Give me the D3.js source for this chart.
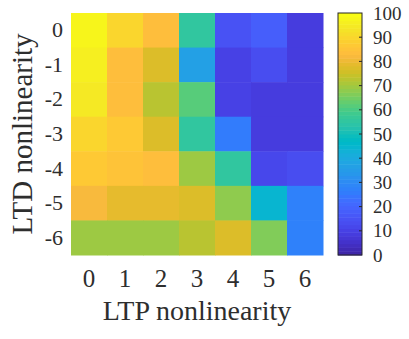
<!DOCTYPE html>
<html>
<head>
<meta charset="utf-8">
<script src="https://cdn.jsdelivr.net/npm/d3@7"></script>
<style>
  html, body { margin: 0; padding: 0; background: #fff; }
  svg { display: block; }
  svg text { font-family: "Liberation Serif", "Times New Roman", serif !important; fill: #2e2e2e; }
</style>
</head>
<body>
<svg id="chart" width="409" height="339"></svg>
<script>
// ---- data ----
const ltpLevels = [0, 1, 2, 3, 4, 5, 6];          // x categories
const ltdLevels = [0, -1, -2, -3, -4, -5, -6];    // y categories (top to bottom)
// accuracy (%) : one row per LTD level, columns = LTP level 0..6
const row0  = [97, 90, 83, 55, 15, 18, 8];
const rowM1 = [96, 84, 78, 37, 10, 14, 8];
const rowM2 = [95, 84, 73, 62, 10, 8, 8];
const rowM3 = [90, 87, 78, 55, 25, 8, 8];
const rowM4 = [87, 85, 83, 70, 55, 12, 14];
const rowM5 = [82, 79, 79, 78, 68, 45, 28];
const rowM6 = [70, 70, 70, 73, 78, 67, 27];
const values = [row0, rowM1, rowM2, rowM3, rowM4, rowM5, rowM6];
const colorbarTicks = [0, 10, 20, 30, 40, 50, 60, 70, 80, 90, 100];
const xTitle = "LTP nonlinearity";
const yTitle = "LTD nonlinearity";

// parula colormap (64 entries)
const parula = [
[0.2422,0.1504,0.6603],[0.2504,0.1650,0.7076],[0.2578,0.1818,0.7511],[0.2647,0.1978,0.7952],
[0.2706,0.2147,0.8364],[0.2751,0.2342,0.8710],[0.2783,0.2559,0.8991],[0.2803,0.2782,0.9221],
[0.2813,0.3006,0.9414],[0.2810,0.3228,0.9579],[0.2795,0.3447,0.9717],[0.2760,0.3667,0.9829],
[0.2699,0.3892,0.9906],[0.2602,0.4123,0.9952],[0.2440,0.4358,0.9988],[0.2206,0.4603,0.9973],
[0.1963,0.4847,0.9892],[0.1834,0.5074,0.9798],[0.1786,0.5289,0.9682],[0.1764,0.5499,0.9520],
[0.1687,0.5703,0.9359],[0.1540,0.5902,0.9218],[0.1460,0.6091,0.9079],[0.1380,0.6276,0.8973],
[0.1248,0.6459,0.8883],[0.1113,0.6635,0.8763],[0.0952,0.6798,0.8598],[0.0689,0.6948,0.8394],
[0.0297,0.7082,0.8163],[0.0036,0.7203,0.7917],[0.0067,0.7312,0.7660],[0.0433,0.7411,0.7394],
[0.0964,0.7500,0.7120],[0.1408,0.7584,0.6842],[0.1717,0.7670,0.6554],[0.1938,0.7758,0.6251],
[0.2161,0.7843,0.5923],[0.2470,0.7918,0.5567],[0.2906,0.7973,0.5188],[0.3406,0.8008,0.4789],
[0.3909,0.8029,0.4354],[0.4456,0.8024,0.3909],[0.5044,0.7993,0.3480],[0.5616,0.7942,0.3045],
[0.6174,0.7876,0.2612],[0.6720,0.7793,0.2227],[0.7242,0.7698,0.1910],[0.7738,0.7598,0.1646],
[0.8203,0.7498,0.1535],[0.8634,0.7406,0.1596],[0.9035,0.7330,0.1774],[0.9393,0.7288,0.2100],
[0.9728,0.7298,0.2394],[0.9956,0.7434,0.2371],[0.9970,0.7659,0.2199],[0.9952,0.7893,0.2028],
[0.9892,0.8136,0.1885],[0.9786,0.8386,0.1766],[0.9676,0.8639,0.1643],[0.9610,0.8890,0.1537],
[0.9597,0.9135,0.1423],[0.9628,0.9373,0.1265],[0.9691,0.9606,0.1064],[0.9769,0.9839,0.0805]
].map(c => d3.rgb(c[0]*255, c[1]*255, c[2]*255).formatHex());

// ---- layout ----
const plot = { left: 71, right: 323, top: 13, bottom: 255 };
const cbar = { left: 338, right: 362 };
const FONT = "'Liberation Serif', 'Times New Roman', serif";

const svg = d3.select("#chart");

const x = d3.scaleBand().domain(ltpLevels).range([plot.left, plot.right]).padding(0);
const y = d3.scaleBand().domain(ltdLevels).range([plot.top, plot.bottom]).padding(0);
const colorIndex = d3.scaleQuantize().domain([0, 100]).range(parula);

// cells
const cells = [];
values.forEach((row, i) => row.forEach((v, j) => cells.push({ ltd: ltdLevels[i], ltp: ltpLevels[j], v })));
svg.append("g").selectAll("rect").data(cells).join("rect")
  .attr("x", d => x(d.ltp))
  .attr("y", d => y(d.ltd))
  .attr("width", x.bandwidth() + 0.5)
  .attr("height", y.bandwidth() + 0.5)
  .attr("fill", d => colorIndex(d.v));

// x axis
const xAxis = svg.append("g")
  .attr("transform", `translate(0,${plot.bottom})`)
  .call(d3.axisBottom(x).tickSize(0).tickPadding(14))
  .attr("font-family", FONT).attr("font-size", 25);
xAxis.select(".domain").remove();
xAxis.selectAll("text").attr("fill", "#2e2e2e");

// y axis
const yAxis = svg.append("g")
  .attr("transform", `translate(${plot.left},0)`)
  .call(d3.axisLeft(y).tickSize(0).tickPadding(8))
  .attr("font-family", FONT).attr("font-size", 22);
yAxis.select(".domain").remove();
yAxis.selectAll("text").attr("fill", "#2e2e2e");

// axis titles
svg.append("text")
  .attr("x", (plot.left + plot.right) / 2)
  .attr("y", 320)
  .attr("text-anchor", "middle")
  .attr("font-family", FONT)
  .attr("font-size", 28)
  .text(xTitle);

svg.append("text")
  .attr("transform", `translate(32,${(plot.top + plot.bottom) / 2}) rotate(-90)`)
  .attr("text-anchor", "middle")
  .attr("font-family", FONT)
  .attr("font-size", 29)
  .text(yTitle);

// colorbar
const cy = d3.scaleLinear().domain([0, 100]).range([plot.bottom, plot.top]);
const steps = d3.range(parula.length);
const stepH = (plot.bottom - plot.top) / parula.length;
svg.append("g").selectAll("rect").data(steps).join("rect")
  .attr("x", cbar.left)
  .attr("y", i => cy((i + 1) * 100 / parula.length))
  .attr("width", cbar.right - cbar.left)
  .attr("height", stepH + 0.5)
  .attr("fill", i => parula[i]);
svg.append("rect")
  .attr("x", cbar.left).attr("y", plot.top)
  .attr("width", cbar.right - cbar.left).attr("height", plot.bottom - plot.top)
  .attr("fill", "none").attr("stroke", "#262626").attr("stroke-width", 1);

const cAxis = svg.append("g")
  .attr("transform", `translate(${cbar.right},0)`)
  .call(d3.axisRight(cy).tickValues(colorbarTicks).tickSize(0).tickPadding(11))
  .attr("font-family", FONT).attr("font-size", 19);
cAxis.select(".domain").remove();
cAxis.selectAll("text").attr("fill", "#2e2e2e");
// inner tick marks
svg.append("g").selectAll("line").data(colorbarTicks.slice(1, -1)).join("line")
  .attr("x1", cbar.right - 3).attr("x2", cbar.right)
  .attr("y1", d => cy(d)).attr("y2", d => cy(d))
  .attr("stroke", "#262626").attr("stroke-width", 1);
</script>
</body>
</html>
